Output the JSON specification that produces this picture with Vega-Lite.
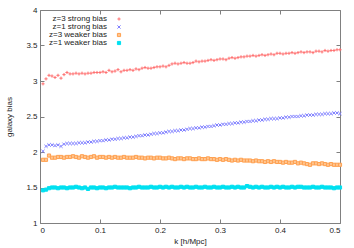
{
  "$schema": "https://vega.github.io/schema/vega-lite/v6.json",
  "width": 300,
  "height": 213,
  "autosize": {"type": "none"},
  "padding": {"left": 40, "top": 10, "right": 14, "bottom": 25},
  "config": {
    "font": "Liberation Sans",
    "view": {"stroke": null},
    "axis": {
      "grid": false,
      "domainColor": "#808080",
      "domainWidth": 1,
      "tickColor": "#808080",
      "tickSize": -4,
      "labelFontSize": 8,
      "labelColor": "#222",
      "titleFontSize": 8,
      "titleFontWeight": "normal",
      "titleColor": "#222",
      "labelFont": "Liberation Sans",
      "titleFont": "Liberation Sans"
    }
  },
  "datasets": {
    "pts": [
{"k":0.005,"s":"z=3 strong bias","b":2.96},{"k":0.010,"s":"z=3 strong bias","b":3.03},{"k":0.015,"s":"z=3 strong bias","b":3.08},{"k":0.020,"s":"z=3 strong bias","b":3.07},{"k":0.025,"s":"z=3 strong bias","b":3.05},{"k":0.030,"s":"z=3 strong bias","b":3.08},{"k":0.035,"s":"z=3 strong bias","b":3.04},{"k":0.040,"s":"z=3 strong bias","b":3.09},{"k":0.045,"s":"z=3 strong bias","b":3.12},{"k":0.050,"s":"z=3 strong bias","b":3.10},
{"k":0.055,"s":"z=3 strong bias","b":3.10},{"k":0.060,"s":"z=3 strong bias","b":3.11},{"k":0.065,"s":"z=3 strong bias","b":3.10},{"k":0.070,"s":"z=3 strong bias","b":3.11},{"k":0.075,"s":"z=3 strong bias","b":3.10},{"k":0.080,"s":"z=3 strong bias","b":3.11},{"k":0.085,"s":"z=3 strong bias","b":3.11},{"k":0.090,"s":"z=3 strong bias","b":3.12},{"k":0.095,"s":"z=3 strong bias","b":3.12},{"k":0.100,"s":"z=3 strong bias","b":3.12},
{"k":0.105,"s":"z=3 strong bias","b":3.13},{"k":0.110,"s":"z=3 strong bias","b":3.12},{"k":0.115,"s":"z=3 strong bias","b":3.15},{"k":0.120,"s":"z=3 strong bias","b":3.13},{"k":0.125,"s":"z=3 strong bias","b":3.14},{"k":0.130,"s":"z=3 strong bias","b":3.16},{"k":0.135,"s":"z=3 strong bias","b":3.13},{"k":0.140,"s":"z=3 strong bias","b":3.15},{"k":0.145,"s":"z=3 strong bias","b":3.15},{"k":0.150,"s":"z=3 strong bias","b":3.16},
{"k":0.155,"s":"z=3 strong bias","b":3.15},{"k":0.160,"s":"z=3 strong bias","b":3.17},{"k":0.165,"s":"z=3 strong bias","b":3.16},{"k":0.170,"s":"z=3 strong bias","b":3.18},{"k":0.175,"s":"z=3 strong bias","b":3.19},{"k":0.180,"s":"z=3 strong bias","b":3.18},{"k":0.185,"s":"z=3 strong bias","b":3.18},{"k":0.190,"s":"z=3 strong bias","b":3.19},{"k":0.195,"s":"z=3 strong bias","b":3.20},{"k":0.200,"s":"z=3 strong bias","b":3.20},
{"k":0.205,"s":"z=3 strong bias","b":3.21},{"k":0.210,"s":"z=3 strong bias","b":3.20},{"k":0.215,"s":"z=3 strong bias","b":3.22},{"k":0.220,"s":"z=3 strong bias","b":3.24},{"k":0.225,"s":"z=3 strong bias","b":3.25},{"k":0.230,"s":"z=3 strong bias","b":3.24},{"k":0.235,"s":"z=3 strong bias","b":3.25},{"k":0.240,"s":"z=3 strong bias","b":3.26},{"k":0.245,"s":"z=3 strong bias","b":3.25},{"k":0.250,"s":"z=3 strong bias","b":3.25},
{"k":0.255,"s":"z=3 strong bias","b":3.26},{"k":0.260,"s":"z=3 strong bias","b":3.28},{"k":0.265,"s":"z=3 strong bias","b":3.27},{"k":0.270,"s":"z=3 strong bias","b":3.28},{"k":0.275,"s":"z=3 strong bias","b":3.28},{"k":0.280,"s":"z=3 strong bias","b":3.29},{"k":0.285,"s":"z=3 strong bias","b":3.30},{"k":0.290,"s":"z=3 strong bias","b":3.29},{"k":0.295,"s":"z=3 strong bias","b":3.30},{"k":0.300,"s":"z=3 strong bias","b":3.31},
{"k":0.305,"s":"z=3 strong bias","b":3.31},{"k":0.310,"s":"z=3 strong bias","b":3.30},{"k":0.315,"s":"z=3 strong bias","b":3.32},{"k":0.320,"s":"z=3 strong bias","b":3.33},{"k":0.325,"s":"z=3 strong bias","b":3.32},{"k":0.330,"s":"z=3 strong bias","b":3.33},{"k":0.335,"s":"z=3 strong bias","b":3.34},{"k":0.340,"s":"z=3 strong bias","b":3.34},{"k":0.345,"s":"z=3 strong bias","b":3.35},{"k":0.350,"s":"z=3 strong bias","b":3.35},
{"k":0.355,"s":"z=3 strong bias","b":3.36},{"k":0.360,"s":"z=3 strong bias","b":3.35},{"k":0.365,"s":"z=3 strong bias","b":3.36},{"k":0.370,"s":"z=3 strong bias","b":3.37},{"k":0.375,"s":"z=3 strong bias","b":3.36},{"k":0.380,"s":"z=3 strong bias","b":3.37},{"k":0.385,"s":"z=3 strong bias","b":3.38},{"k":0.390,"s":"z=3 strong bias","b":3.37},{"k":0.395,"s":"z=3 strong bias","b":3.39},{"k":0.400,"s":"z=3 strong bias","b":3.39},
{"k":0.405,"s":"z=3 strong bias","b":3.38},{"k":0.410,"s":"z=3 strong bias","b":3.39},{"k":0.415,"s":"z=3 strong bias","b":3.39},{"k":0.420,"s":"z=3 strong bias","b":3.40},{"k":0.425,"s":"z=3 strong bias","b":3.39},{"k":0.430,"s":"z=3 strong bias","b":3.40},{"k":0.435,"s":"z=3 strong bias","b":3.41},{"k":0.440,"s":"z=3 strong bias","b":3.40},{"k":0.445,"s":"z=3 strong bias","b":3.41},{"k":0.450,"s":"z=3 strong bias","b":3.41},
{"k":0.455,"s":"z=3 strong bias","b":3.40},{"k":0.460,"s":"z=3 strong bias","b":3.42},{"k":0.465,"s":"z=3 strong bias","b":3.42},{"k":0.470,"s":"z=3 strong bias","b":3.41},{"k":0.475,"s":"z=3 strong bias","b":3.43},{"k":0.480,"s":"z=3 strong bias","b":3.42},{"k":0.485,"s":"z=3 strong bias","b":3.43},{"k":0.490,"s":"z=3 strong bias","b":3.43},{"k":0.495,"s":"z=3 strong bias","b":3.44},{"k":0.500,"s":"z=3 strong bias","b":3.44},
{"k":0.005,"s":"z=1 strong bias","b":2.01},{"k":0.010,"s":"z=1 strong bias","b":2.08},{"k":0.015,"s":"z=1 strong bias","b":2.10},{"k":0.020,"s":"z=1 strong bias","b":2.10},{"k":0.025,"s":"z=1 strong bias","b":2.09},{"k":0.030,"s":"z=1 strong bias","b":2.10},{"k":0.035,"s":"z=1 strong bias","b":2.08},{"k":0.040,"s":"z=1 strong bias","b":2.11},{"k":0.045,"s":"z=1 strong bias","b":2.12},{"k":0.050,"s":"z=1 strong bias","b":2.12},
{"k":0.055,"s":"z=1 strong bias","b":2.12},{"k":0.060,"s":"z=1 strong bias","b":2.12},{"k":0.065,"s":"z=1 strong bias","b":2.13},{"k":0.070,"s":"z=1 strong bias","b":2.13},{"k":0.075,"s":"z=1 strong bias","b":2.13},{"k":0.080,"s":"z=1 strong bias","b":2.14},{"k":0.085,"s":"z=1 strong bias","b":2.14},{"k":0.090,"s":"z=1 strong bias","b":2.15},{"k":0.095,"s":"z=1 strong bias","b":2.15},{"k":0.100,"s":"z=1 strong bias","b":2.16},
{"k":0.105,"s":"z=1 strong bias","b":2.16},{"k":0.110,"s":"z=1 strong bias","b":2.17},{"k":0.115,"s":"z=1 strong bias","b":2.17},{"k":0.120,"s":"z=1 strong bias","b":2.18},{"k":0.125,"s":"z=1 strong bias","b":2.18},{"k":0.130,"s":"z=1 strong bias","b":2.19},{"k":0.135,"s":"z=1 strong bias","b":2.19},{"k":0.140,"s":"z=1 strong bias","b":2.20},{"k":0.145,"s":"z=1 strong bias","b":2.20},{"k":0.150,"s":"z=1 strong bias","b":2.21},
{"k":0.155,"s":"z=1 strong bias","b":2.21},{"k":0.160,"s":"z=1 strong bias","b":2.22},{"k":0.165,"s":"z=1 strong bias","b":2.23},{"k":0.170,"s":"z=1 strong bias","b":2.23},{"k":0.175,"s":"z=1 strong bias","b":2.24},{"k":0.180,"s":"z=1 strong bias","b":2.24},{"k":0.185,"s":"z=1 strong bias","b":2.25},{"k":0.190,"s":"z=1 strong bias","b":2.26},{"k":0.195,"s":"z=1 strong bias","b":2.26},{"k":0.200,"s":"z=1 strong bias","b":2.27},
{"k":0.205,"s":"z=1 strong bias","b":2.27},{"k":0.210,"s":"z=1 strong bias","b":2.28},{"k":0.215,"s":"z=1 strong bias","b":2.29},{"k":0.220,"s":"z=1 strong bias","b":2.29},{"k":0.225,"s":"z=1 strong bias","b":2.30},{"k":0.230,"s":"z=1 strong bias","b":2.30},{"k":0.235,"s":"z=1 strong bias","b":2.31},{"k":0.240,"s":"z=1 strong bias","b":2.31},{"k":0.245,"s":"z=1 strong bias","b":2.32},{"k":0.250,"s":"z=1 strong bias","b":2.33},
{"k":0.255,"s":"z=1 strong bias","b":2.33},{"k":0.260,"s":"z=1 strong bias","b":2.34},{"k":0.265,"s":"z=1 strong bias","b":2.34},{"k":0.270,"s":"z=1 strong bias","b":2.35},{"k":0.275,"s":"z=1 strong bias","b":2.35},{"k":0.280,"s":"z=1 strong bias","b":2.36},{"k":0.285,"s":"z=1 strong bias","b":2.36},{"k":0.290,"s":"z=1 strong bias","b":2.37},{"k":0.295,"s":"z=1 strong bias","b":2.38},{"k":0.300,"s":"z=1 strong bias","b":2.38},
{"k":0.305,"s":"z=1 strong bias","b":2.39},{"k":0.310,"s":"z=1 strong bias","b":2.39},{"k":0.315,"s":"z=1 strong bias","b":2.40},{"k":0.320,"s":"z=1 strong bias","b":2.40},{"k":0.325,"s":"z=1 strong bias","b":2.41},{"k":0.330,"s":"z=1 strong bias","b":2.41},{"k":0.335,"s":"z=1 strong bias","b":2.42},{"k":0.340,"s":"z=1 strong bias","b":2.42},{"k":0.345,"s":"z=1 strong bias","b":2.43},{"k":0.350,"s":"z=1 strong bias","b":2.43},
{"k":0.355,"s":"z=1 strong bias","b":2.44},{"k":0.360,"s":"z=1 strong bias","b":2.44},{"k":0.365,"s":"z=1 strong bias","b":2.45},{"k":0.370,"s":"z=1 strong bias","b":2.45},{"k":0.375,"s":"z=1 strong bias","b":2.46},{"k":0.380,"s":"z=1 strong bias","b":2.46},{"k":0.385,"s":"z=1 strong bias","b":2.47},{"k":0.390,"s":"z=1 strong bias","b":2.47},{"k":0.395,"s":"z=1 strong bias","b":2.47},{"k":0.400,"s":"z=1 strong bias","b":2.48},
{"k":0.405,"s":"z=1 strong bias","b":2.48},{"k":0.410,"s":"z=1 strong bias","b":2.49},{"k":0.415,"s":"z=1 strong bias","b":2.49},{"k":0.420,"s":"z=1 strong bias","b":2.50},{"k":0.425,"s":"z=1 strong bias","b":2.50},{"k":0.430,"s":"z=1 strong bias","b":2.50},{"k":0.435,"s":"z=1 strong bias","b":2.51},{"k":0.440,"s":"z=1 strong bias","b":2.51},{"k":0.445,"s":"z=1 strong bias","b":2.52},{"k":0.450,"s":"z=1 strong bias","b":2.52},
{"k":0.455,"s":"z=1 strong bias","b":2.52},{"k":0.460,"s":"z=1 strong bias","b":2.53},{"k":0.465,"s":"z=1 strong bias","b":2.53},{"k":0.470,"s":"z=1 strong bias","b":2.53},{"k":0.475,"s":"z=1 strong bias","b":2.54},{"k":0.480,"s":"z=1 strong bias","b":2.54},{"k":0.485,"s":"z=1 strong bias","b":2.54},{"k":0.490,"s":"z=1 strong bias","b":2.55},{"k":0.495,"s":"z=1 strong bias","b":2.55},{"k":0.500,"s":"z=1 strong bias","b":2.54},
{"k":0.005,"s":"z=3 weaker bias","b":1.89},{"k":0.010,"s":"z=3 weaker bias","b":1.89},{"k":0.015,"s":"z=3 weaker bias","b":1.95},{"k":0.020,"s":"z=3 weaker bias","b":1.92},{"k":0.025,"s":"z=3 weaker bias","b":1.92},{"k":0.030,"s":"z=3 weaker bias","b":1.93},{"k":0.035,"s":"z=3 weaker bias","b":1.93},{"k":0.040,"s":"z=3 weaker bias","b":1.92},{"k":0.045,"s":"z=3 weaker bias","b":1.93},{"k":0.050,"s":"z=3 weaker bias","b":1.93},
{"k":0.055,"s":"z=3 weaker bias","b":1.94},{"k":0.060,"s":"z=3 weaker bias","b":1.93},{"k":0.065,"s":"z=3 weaker bias","b":1.92},{"k":0.070,"s":"z=3 weaker bias","b":1.94},{"k":0.075,"s":"z=3 weaker bias","b":1.93},{"k":0.080,"s":"z=3 weaker bias","b":1.92},{"k":0.085,"s":"z=3 weaker bias","b":1.93},{"k":0.090,"s":"z=3 weaker bias","b":1.94},{"k":0.095,"s":"z=3 weaker bias","b":1.92},{"k":0.100,"s":"z=3 weaker bias","b":1.93},
{"k":0.105,"s":"z=3 weaker bias","b":1.93},{"k":0.110,"s":"z=3 weaker bias","b":1.92},{"k":0.115,"s":"z=3 weaker bias","b":1.93},{"k":0.120,"s":"z=3 weaker bias","b":1.92},{"k":0.125,"s":"z=3 weaker bias","b":1.93},{"k":0.130,"s":"z=3 weaker bias","b":1.92},{"k":0.135,"s":"z=3 weaker bias","b":1.92},{"k":0.140,"s":"z=3 weaker bias","b":1.93},{"k":0.145,"s":"z=3 weaker bias","b":1.92},{"k":0.150,"s":"z=3 weaker bias","b":1.92},
{"k":0.155,"s":"z=3 weaker bias","b":1.92},{"k":0.160,"s":"z=3 weaker bias","b":1.93},{"k":0.165,"s":"z=3 weaker bias","b":1.92},{"k":0.170,"s":"z=3 weaker bias","b":1.92},{"k":0.175,"s":"z=3 weaker bias","b":1.91},{"k":0.180,"s":"z=3 weaker bias","b":1.92},{"k":0.185,"s":"z=3 weaker bias","b":1.92},{"k":0.190,"s":"z=3 weaker bias","b":1.91},{"k":0.195,"s":"z=3 weaker bias","b":1.92},{"k":0.200,"s":"z=3 weaker bias","b":1.92},
{"k":0.205,"s":"z=3 weaker bias","b":1.91},{"k":0.210,"s":"z=3 weaker bias","b":1.91},{"k":0.215,"s":"z=3 weaker bias","b":1.92},{"k":0.220,"s":"z=3 weaker bias","b":1.91},{"k":0.225,"s":"z=3 weaker bias","b":1.90},{"k":0.230,"s":"z=3 weaker bias","b":1.91},{"k":0.235,"s":"z=3 weaker bias","b":1.91},{"k":0.240,"s":"z=3 weaker bias","b":1.90},{"k":0.245,"s":"z=3 weaker bias","b":1.91},{"k":0.250,"s":"z=3 weaker bias","b":1.91},
{"k":0.255,"s":"z=3 weaker bias","b":1.90},{"k":0.260,"s":"z=3 weaker bias","b":1.90},{"k":0.265,"s":"z=3 weaker bias","b":1.91},{"k":0.270,"s":"z=3 weaker bias","b":1.90},{"k":0.275,"s":"z=3 weaker bias","b":1.90},{"k":0.280,"s":"z=3 weaker bias","b":1.91},{"k":0.285,"s":"z=3 weaker bias","b":1.90},{"k":0.290,"s":"z=3 weaker bias","b":1.90},{"k":0.295,"s":"z=3 weaker bias","b":1.89},{"k":0.300,"s":"z=3 weaker bias","b":1.90},
{"k":0.305,"s":"z=3 weaker bias","b":1.89},{"k":0.310,"s":"z=3 weaker bias","b":1.90},{"k":0.315,"s":"z=3 weaker bias","b":1.89},{"k":0.320,"s":"z=3 weaker bias","b":1.88},{"k":0.325,"s":"z=3 weaker bias","b":1.89},{"k":0.330,"s":"z=3 weaker bias","b":1.88},{"k":0.335,"s":"z=3 weaker bias","b":1.89},{"k":0.340,"s":"z=3 weaker bias","b":1.88},{"k":0.345,"s":"z=3 weaker bias","b":1.88},{"k":0.350,"s":"z=3 weaker bias","b":1.88},
{"k":0.355,"s":"z=3 weaker bias","b":1.87},{"k":0.360,"s":"z=3 weaker bias","b":1.88},{"k":0.365,"s":"z=3 weaker bias","b":1.87},{"k":0.370,"s":"z=3 weaker bias","b":1.87},{"k":0.375,"s":"z=3 weaker bias","b":1.86},{"k":0.380,"s":"z=3 weaker bias","b":1.87},{"k":0.385,"s":"z=3 weaker bias","b":1.86},{"k":0.390,"s":"z=3 weaker bias","b":1.87},{"k":0.395,"s":"z=3 weaker bias","b":1.86},{"k":0.400,"s":"z=3 weaker bias","b":1.86},
{"k":0.405,"s":"z=3 weaker bias","b":1.85},{"k":0.410,"s":"z=3 weaker bias","b":1.86},{"k":0.415,"s":"z=3 weaker bias","b":1.85},{"k":0.420,"s":"z=3 weaker bias","b":1.85},{"k":0.425,"s":"z=3 weaker bias","b":1.86},{"k":0.430,"s":"z=3 weaker bias","b":1.84},{"k":0.435,"s":"z=3 weaker bias","b":1.85},{"k":0.440,"s":"z=3 weaker bias","b":1.84},{"k":0.445,"s":"z=3 weaker bias","b":1.83},{"k":0.450,"s":"z=3 weaker bias","b":1.82},
{"k":0.455,"s":"z=3 weaker bias","b":1.84},{"k":0.460,"s":"z=3 weaker bias","b":1.84},{"k":0.465,"s":"z=3 weaker bias","b":1.83},{"k":0.470,"s":"z=3 weaker bias","b":1.84},{"k":0.475,"s":"z=3 weaker bias","b":1.83},{"k":0.480,"s":"z=3 weaker bias","b":1.82},{"k":0.485,"s":"z=3 weaker bias","b":1.83},{"k":0.490,"s":"z=3 weaker bias","b":1.82},{"k":0.495,"s":"z=3 weaker bias","b":1.82},{"k":0.500,"s":"z=3 weaker bias","b":1.82},
{"k":0.005,"s":"z=1 weaker bias","b":1.46},{"k":0.010,"s":"z=1 weaker bias","b":1.47},{"k":0.015,"s":"z=1 weaker bias","b":1.49},{"k":0.020,"s":"z=1 weaker bias","b":1.50},{"k":0.025,"s":"z=1 weaker bias","b":1.50},{"k":0.030,"s":"z=1 weaker bias","b":1.49},{"k":0.035,"s":"z=1 weaker bias","b":1.50},{"k":0.040,"s":"z=1 weaker bias","b":1.50},{"k":0.045,"s":"z=1 weaker bias","b":1.49},{"k":0.050,"s":"z=1 weaker bias","b":1.50},
{"k":0.055,"s":"z=1 weaker bias","b":1.50},{"k":0.060,"s":"z=1 weaker bias","b":1.51},{"k":0.065,"s":"z=1 weaker bias","b":1.50},{"k":0.070,"s":"z=1 weaker bias","b":1.49},{"k":0.075,"s":"z=1 weaker bias","b":1.50},{"k":0.080,"s":"z=1 weaker bias","b":1.48},{"k":0.085,"s":"z=1 weaker bias","b":1.50},{"k":0.090,"s":"z=1 weaker bias","b":1.50},{"k":0.095,"s":"z=1 weaker bias","b":1.49},{"k":0.100,"s":"z=1 weaker bias","b":1.50},
{"k":0.105,"s":"z=1 weaker bias","b":1.50},{"k":0.110,"s":"z=1 weaker bias","b":1.49},{"k":0.115,"s":"z=1 weaker bias","b":1.50},{"k":0.120,"s":"z=1 weaker bias","b":1.50},{"k":0.125,"s":"z=1 weaker bias","b":1.51},{"k":0.130,"s":"z=1 weaker bias","b":1.50},{"k":0.135,"s":"z=1 weaker bias","b":1.50},{"k":0.140,"s":"z=1 weaker bias","b":1.50},{"k":0.145,"s":"z=1 weaker bias","b":1.50},{"k":0.150,"s":"z=1 weaker bias","b":1.49},
{"k":0.155,"s":"z=1 weaker bias","b":1.50},{"k":0.160,"s":"z=1 weaker bias","b":1.50},{"k":0.165,"s":"z=1 weaker bias","b":1.51},{"k":0.170,"s":"z=1 weaker bias","b":1.50},{"k":0.175,"s":"z=1 weaker bias","b":1.50},{"k":0.180,"s":"z=1 weaker bias","b":1.50},{"k":0.185,"s":"z=1 weaker bias","b":1.51},{"k":0.190,"s":"z=1 weaker bias","b":1.50},{"k":0.195,"s":"z=1 weaker bias","b":1.50},{"k":0.200,"s":"z=1 weaker bias","b":1.51},
{"k":0.205,"s":"z=1 weaker bias","b":1.50},{"k":0.210,"s":"z=1 weaker bias","b":1.51},{"k":0.215,"s":"z=1 weaker bias","b":1.50},{"k":0.220,"s":"z=1 weaker bias","b":1.51},{"k":0.225,"s":"z=1 weaker bias","b":1.50},{"k":0.230,"s":"z=1 weaker bias","b":1.50},{"k":0.235,"s":"z=1 weaker bias","b":1.51},{"k":0.240,"s":"z=1 weaker bias","b":1.50},{"k":0.245,"s":"z=1 weaker bias","b":1.51},{"k":0.250,"s":"z=1 weaker bias","b":1.50},
{"k":0.255,"s":"z=1 weaker bias","b":1.50},{"k":0.260,"s":"z=1 weaker bias","b":1.51},{"k":0.265,"s":"z=1 weaker bias","b":1.50},{"k":0.270,"s":"z=1 weaker bias","b":1.50},{"k":0.275,"s":"z=1 weaker bias","b":1.51},{"k":0.280,"s":"z=1 weaker bias","b":1.50},{"k":0.285,"s":"z=1 weaker bias","b":1.50},{"k":0.290,"s":"z=1 weaker bias","b":1.51},{"k":0.295,"s":"z=1 weaker bias","b":1.50},{"k":0.300,"s":"z=1 weaker bias","b":1.50},
{"k":0.305,"s":"z=1 weaker bias","b":1.51},{"k":0.310,"s":"z=1 weaker bias","b":1.50},{"k":0.315,"s":"z=1 weaker bias","b":1.50},{"k":0.320,"s":"z=1 weaker bias","b":1.51},{"k":0.325,"s":"z=1 weaker bias","b":1.50},{"k":0.330,"s":"z=1 weaker bias","b":1.51},{"k":0.335,"s":"z=1 weaker bias","b":1.50},{"k":0.340,"s":"z=1 weaker bias","b":1.50},{"k":0.345,"s":"z=1 weaker bias","b":1.52},{"k":0.350,"s":"z=1 weaker bias","b":1.51},
{"k":0.355,"s":"z=1 weaker bias","b":1.50},{"k":0.360,"s":"z=1 weaker bias","b":1.51},{"k":0.365,"s":"z=1 weaker bias","b":1.50},{"k":0.370,"s":"z=1 weaker bias","b":1.51},{"k":0.375,"s":"z=1 weaker bias","b":1.50},{"k":0.380,"s":"z=1 weaker bias","b":1.50},{"k":0.385,"s":"z=1 weaker bias","b":1.51},{"k":0.390,"s":"z=1 weaker bias","b":1.50},{"k":0.395,"s":"z=1 weaker bias","b":1.51},{"k":0.400,"s":"z=1 weaker bias","b":1.50},
{"k":0.405,"s":"z=1 weaker bias","b":1.51},{"k":0.410,"s":"z=1 weaker bias","b":1.50},{"k":0.415,"s":"z=1 weaker bias","b":1.50},{"k":0.420,"s":"z=1 weaker bias","b":1.51},{"k":0.425,"s":"z=1 weaker bias","b":1.50},{"k":0.430,"s":"z=1 weaker bias","b":1.51},{"k":0.435,"s":"z=1 weaker bias","b":1.51},{"k":0.440,"s":"z=1 weaker bias","b":1.50},{"k":0.445,"s":"z=1 weaker bias","b":1.50},{"k":0.450,"s":"z=1 weaker bias","b":1.50},
{"k":0.455,"s":"z=1 weaker bias","b":1.51},{"k":0.460,"s":"z=1 weaker bias","b":1.50},{"k":0.465,"s":"z=1 weaker bias","b":1.50},{"k":0.470,"s":"z=1 weaker bias","b":1.51},{"k":0.475,"s":"z=1 weaker bias","b":1.50},{"k":0.480,"s":"z=1 weaker bias","b":1.50},{"k":0.485,"s":"z=1 weaker bias","b":1.50},{"k":0.490,"s":"z=1 weaker bias","b":1.49},{"k":0.495,"s":"z=1 weaker bias","b":1.50},{"k":0.500,"s":"z=1 weaker bias","b":1.50}
    ]
  },
  "data": {"name": "pts"},
  "layer": [
    {
      "mark": {"type": "point", "strokeWidth": 1, "size": 10, "opacity": 1, "fillOpacity": 1},
      "encoding": {
        "x": {
          "field": "k", "type": "quantitative",
          "scale": {"domain": [0, 0.5], "nice": false, "zero": false},
          "axis": {"title": "k [h/Mpc]", "values": [0, 0.1, 0.2, 0.3, 0.4, 0.5], "format": "~g", "labelPadding": 7, "titlePadding": 3}
        },
        "y": {
          "field": "b", "type": "quantitative",
          "scale": {"domain": [1, 4], "nice": false, "zero": false},
          "axis": {"title": "galaxy bias", "values": [1, 1.5, 2, 2.5, 3, 3.5, 4], "format": "~g", "labelPadding": 7, "titlePadding": 12}
        },
        "stroke": {
          "field": "s", "type": "nominal",
          "scale": {
            "domain": ["z=3 strong bias", "z=1 strong bias", "z=3 weaker bias", "z=1 weaker bias"],
            "range": ["#ff7070", "#8080ff", "#ffa050", "#00e0f0"]
          },
          "legend": {
            "title": null,
            "orient": "none",
            "legendX": 75,
            "legendY": 5,
            "labelAlign": "right",
            "labelOffset": -16,
            "labelFontSize": 8,
            "labelColor": "#222",
            "labelFont": "Liberation Sans",
            "rowPadding": 0,
            "symbolStrokeWidth": 1,
            "symbolSize": 10
          }
        },
        "fill": {
          "field": "s", "type": "nominal",
          "scale": {
            "domain": ["z=3 strong bias", "z=1 strong bias", "z=3 weaker bias", "z=1 weaker bias"],
            "range": ["transparent", "transparent", "#ffc590", "#00e0f0"]
          },
          "legend": {
            "title": null,
            "orient": "none",
            "legendX": 75,
            "legendY": 5,
            "labelAlign": "right",
            "labelOffset": -16,
            "labelFontSize": 8,
            "labelColor": "#222",
            "labelFont": "Liberation Sans",
            "rowPadding": 0,
            "symbolStrokeWidth": 1,
            "symbolSize": 10
          }
        },
        "shape": {
          "field": "s", "type": "nominal",
          "scale": {
            "domain": ["z=3 strong bias", "z=1 strong bias", "z=3 weaker bias", "z=1 weaker bias"],
            "range": ["M-1,0H1M0,-1V1", "M-1,-1L1,1M-1,1L1,-1", "M-1,-1H1V1H-1Z", "M-1,-1H1V1H-1Z"]
          },
          "legend": {
            "title": null,
            "orient": "none",
            "legendX": 75,
            "legendY": 5,
            "labelAlign": "right",
            "labelOffset": -16,
            "labelFontSize": 8,
            "labelColor": "#222",
            "labelFont": "Liberation Sans",
            "rowPadding": 0,
            "symbolStrokeWidth": 1,
            "symbolSize": 10
          }
        }
      }
    },
    {
      "mark": {"type": "point", "opacity": 0},
      "encoding": {
        "x": {
          "field": "k", "type": "quantitative",
          "axis": {"orient": "top", "labels": false, "title": null, "values": [0, 0.1, 0.2, 0.3, 0.4, 0.5]}
        },
        "y": {
          "field": "b", "type": "quantitative",
          "axis": {"orient": "right", "labels": false, "title": null, "values": [1, 1.5, 2, 2.5, 3, 3.5, 4]}
        }
      }
    }
  ],
  "resolve": {"axis": {"x": "independent", "y": "independent"}}
}
